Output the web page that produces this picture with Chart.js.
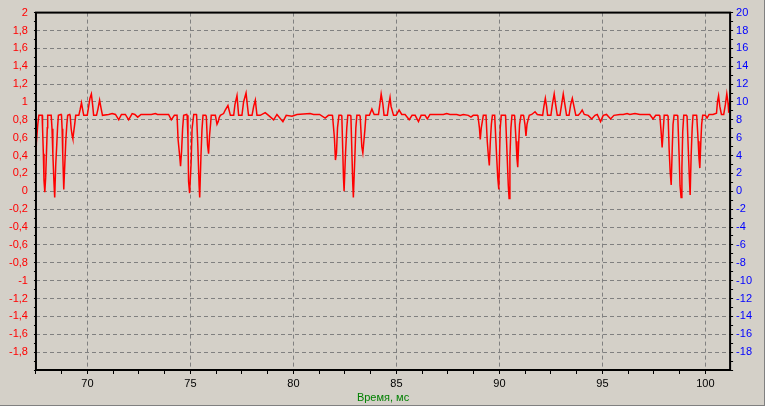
<!DOCTYPE html>
<html>
<head>
<meta charset="utf-8">
<script src="https://cdn.jsdelivr.net/npm/chart.js@4.4.0/dist/chart.umd.min.js"></script>
<style>
  html, body { margin: 0; padding: 0; background: #d4d0c8; }
  #wrap { width: 765px; height: 406px; box-sizing: border-box; border-right: 1px solid #808080; border-bottom: 1px solid #808080; }
  canvas { display: block; }
</style>
</head>
<body>
<div id="wrap"><canvas id="osc" width="764" height="405"></canvas></div>
<script>
// time axis, ms
var timeMs = [
  67.50, 67.52, 67.59, 67.64, 67.80, 67.82, 67.86, 67.89, 67.93, 67.97, 68.01, 68.05, 68.07, 68.21, 68.24, 68.28, 68.32, 68.37, 68.41, 68.46, 68.51, 68.55, 68.59, 68.72, 68.74, 68.77, 68.80, 68.85, 68.90, 68.95, 69.00, 69.04, 69.14, 69.16, 69.21, 69.26, 69.29, 69.33, 69.38, 69.43,
  69.58, 69.64, 69.71, 69.77, 69.82, 69.99, 70.06, 70.12, 70.19, 70.25, 70.30, 70.44, 70.51, 70.59, 70.66, 70.73,
  71.03, 71.20, 71.36, 71.52, 71.65, 71.84, 72.00, 72.17, 72.30, 72.44, 72.60, 72.81, 73.10, 73.30, 73.40, 73.54, 73.94, 74.07, 74.22,
  74.35, 74.40, 74.48, 74.52, 74.57, 74.62, 74.67, 74.82, 74.84, 74.88, 74.91, 74.96, 75.03, 75.08, 75.16, 75.29, 75.30, 75.36, 75.42, 75.45, 75.51, 75.56, 75.61, 75.74, 75.77, 75.83, 75.88, 75.93, 75.98, 76.01,
  76.21, 76.29, 76.35, 76.39, 76.45, 76.61, 76.69, 76.82, 76.94, 77.10, 77.16, 77.26, 77.34, 77.50, 77.58, 77.70, 77.77, 77.82, 77.99, 78.07, 78.15, 78.23, 78.39, 78.63, 78.79, 79.04, 79.20, 79.49, 79.65, 79.93, 80.17, 80.81, 80.98, 81.27, 81.54, 81.70, 81.88,
  81.90, 81.99, 82.04, 82.09, 82.14, 82.21, 82.32, 82.35, 82.43, 82.46, 82.53, 82.59, 82.64, 82.75, 82.79, 82.88, 82.91, 82.98, 83.03, 83.08, 83.21, 83.24, 83.32, 83.37, 83.42, 83.47, 83.52,
  83.69, 83.81, 83.92, 84.13, 84.20, 84.26, 84.34, 84.40, 84.56, 84.63, 84.69, 84.74, 84.86, 84.99, 85.13, 85.26, 85.42, 85.62, 85.76, 85.91, 86.07, 86.20, 86.39, 86.50, 86.63, 87.28, 87.44, 87.60, 87.93, 88.09, 88.25, 88.49, 88.62, 88.73, 88.93,
  88.96, 89.03, 89.07, 89.12, 89.17, 89.22, 89.35, 89.41, 89.46, 89.51, 89.56, 89.61, 89.66, 89.77, 89.87, 89.92, 89.97, 90.01, 90.04, 90.09, 90.29, 90.30, 90.38, 90.43, 90.47, 90.51, 90.56, 90.61, 90.72, 90.74, 90.81, 90.85, 90.89, 90.94, 90.98, 91.05, 91.16, 91.18, 91.24, 91.29, 91.34, 91.39, 91.45,
  91.57, 91.73, 91.84, 92.10, 92.16, 92.23, 92.29, 92.34, 92.50, 92.57, 92.66, 92.73, 92.81, 92.94, 93.02, 93.10, 93.18, 93.26, 93.38, 93.46, 93.54, 93.62, 93.71, 93.83, 93.94, 94.02, 94.12, 94.31, 94.48, 94.64, 94.75, 94.91, 95.04, 95.20, 95.40, 95.56, 95.85, 96.01, 96.20, 96.33, 96.58, 96.82, 97.06, 97.30, 97.46, 97.59, 97.76,
  97.79, 97.85, 97.90, 97.95, 98.00, 98.16, 98.19, 98.24, 98.29, 98.34, 98.39, 98.43, 98.48, 98.63, 98.66, 98.73, 98.77, 98.82, 98.86, 98.90, 98.95, 99.08, 99.11, 99.18, 99.23, 99.26, 99.31, 99.36, 99.40, 99.57, 99.58, 99.65, 99.69, 99.73, 99.78, 99.82, 99.87,
  100.00, 100.08, 100.18, 100.37, 100.54, 100.59, 100.64, 100.70, 100.78, 100.89, 100.97, 101.04, 101.10, 101.13, 101.20
];
// signal, left axis units
var signal = [
  0.34, 0.54, 0.75, 0.85, 0.85, 0.71, 0.42, 0.12, -0.01, 0.15, 0.43, 0.71, 0.85, 0.85, 0.85, 0.70, 0.42, 0.12, -0.07, 0.30, 0.52, 0.72, 0.85, 0.86, 0.85, 0.70, 0.42, 0.02, 0.30, 0.57, 0.75, 0.85, 0.86, 0.85, 0.70, 0.62, 0.59, 0.66, 0.75, 0.85,
  0.85, 0.91, 0.99, 0.91, 0.85, 0.85, 0.95, 1.04, 1.09, 0.97, 0.85, 0.85, 0.92, 1.02, 0.93, 0.85,
  0.86, 0.87, 0.86, 0.80, 0.86, 0.86, 0.80, 0.87, 0.86, 0.83, 0.86, 0.86, 0.86, 0.87, 0.86, 0.86, 0.86, 0.80, 0.85,
  0.85, 0.58, 0.39, 0.28, 0.45, 0.70, 0.85, 0.86, 0.85, 0.60, 0.11, -0.02, 0.30, 0.70, 0.86, 0.86, 0.85, 0.50, 0.07, -0.07, 0.39, 0.69, 0.85, 0.85, 0.84, 0.52, 0.42, 0.63, 0.76, 0.85,
  0.85, 0.75, 0.78, 0.82, 0.85, 0.87, 0.91, 0.96, 0.85, 0.85, 0.97, 1.07, 0.85, 0.85, 1.00, 1.10, 0.95, 0.85, 0.85, 0.95, 1.02, 0.85, 0.85, 0.88, 0.85, 0.80, 0.86, 0.78, 0.85, 0.84, 0.86, 0.87, 0.86, 0.86, 0.82, 0.85, 0.85,
  0.84, 0.60, 0.35, 0.43, 0.71, 0.85, 0.85, 0.84, 0.15, 0.00, 0.43, 0.71, 0.85, 0.85, 0.84, 0.09, -0.07, 0.37, 0.71, 0.85, 0.85, 0.84, 0.50, 0.43, 0.56, 0.69, 0.85,
  0.85, 0.92, 0.86, 0.86, 0.98, 1.09, 0.98, 0.85, 0.85, 0.97, 1.05, 0.95, 0.85, 0.85, 0.91, 0.86, 0.86, 0.80, 0.85, 0.85, 0.78, 0.85, 0.85, 0.81, 0.86, 0.86, 0.87, 0.86, 0.86, 0.85, 0.86, 0.85, 0.83, 0.85, 0.85,
  0.84, 0.71, 0.58, 0.71, 0.78, 0.85, 0.85, 0.56, 0.41, 0.29, 0.56, 0.75, 0.85, 0.85, 0.37, 0.15, 0.02, 0.43, 0.71, 0.85, 0.85, 0.84, 0.37, 0.07, -0.08, 0.38, 0.71, 0.85, 0.85, 0.84, 0.56, 0.37, 0.27, 0.56, 0.75, 0.85, 0.85, 0.84, 0.75, 0.62, 0.75, 0.80, 0.85,
  0.86, 0.89, 0.86, 0.85, 0.95, 1.04, 0.95, 0.85, 0.85, 0.97, 1.09, 0.97, 0.85, 0.85, 0.97, 1.09, 0.97, 0.85, 0.85, 0.97, 1.04, 0.95, 0.85, 0.85, 0.88, 0.91, 0.86, 0.85, 0.81, 0.85, 0.86, 0.78, 0.85, 0.86, 0.81, 0.85, 0.86, 0.86, 0.87, 0.86, 0.87, 0.86, 0.86, 0.86, 0.81, 0.85, 0.85,
  0.84, 0.67, 0.49, 0.67, 0.85, 0.85, 0.84, 0.47, 0.22, 0.07, 0.47, 0.75, 0.85, 0.85, 0.84, 0.37, 0.06, -0.07, 0.26, 0.67, 0.85, 0.85, 0.84, 0.41, 0.11, -0.04, 0.41, 0.71, 0.85, 0.85, 0.84, 0.56, 0.37, 0.26, 0.56, 0.75, 0.85,
  0.85, 0.82, 0.86, 0.86, 0.875, 1.01, 1.07, 0.95, 0.86, 0.86, 0.97, 1.09, 0.99, 0.89, 0.90
];

var xRange = [67.5, 101.2];
var xTickLabels = [70, 75, 80, 85, 90, 95, 100];
var leftRange = [-2, 2];
var rightRange = [-20, 20];

var points = [];
for (var i = 0; i < timeMs.length; i++) {
  points.push({x: timeMs[i], y: signal[i]});
}

var family = '"Liberation Sans", Arial, sans-serif';
var font = {family: family, size: 11};
var gridGray = '#808080';
var none = 'rgba(0,0,0,0)';

function commaNum(v) {
  return String(v).replace('.', ',');
}

// black frame around the plot area
var frame = {
  id: 'frame',
  afterDraw: function(chart) {
    var a = chart.chartArea, c = chart.ctx;
    c.save();
    c.strokeStyle = '#000';
    c.lineWidth = 2;
    c.strokeRect(a.left, a.top, a.right - a.left, a.bottom - a.top);
    c.restore();
  }
};

new Chart(document.getElementById('osc'), {
  type: 'line',
  data: {
    datasets: [{
      data: points,
      borderColor: '#ff0000',
      borderWidth: 1.5,
      pointRadius: 0,
      tension: 0,
      yAxisID: 'y'
    }]
  },
  options: {
    responsive: false,
    animation: false,
    layout: {padding: {left: 3, right: 9, top: 5, bottom: 2}},
    plugins: {legend: {display: false}, tooltip: {enabled: false}},
    scales: {
      x: {
        type: 'linear',
        min: xRange[0],
        max: xRange[1],
        border: {display: false, dash: [4, 3]},
        grid: {
          color: function(ctx) {
            return xTickLabels.indexOf(Math.round(ctx.tick.value * 100) / 100) >= 0 ? gridGray : none;
          },
          tickColor: '#000',
          tickLength: 4
        },
        ticks: {
          stepSize: 1.25,
          includeBounds: false,
          autoSkip: false,
          maxRotation: 0,
          color: '#000',
          font: {family: family, size: 11, lineHeight: '16px'},
          padding: 2,
          callback: function(v) {
            return xTickLabels.indexOf(Math.round(v * 100) / 100) >= 0 ? String(v) : '';
          }
        },
        title: {
          display: true,
          text: 'Время, мс',
          color: '#008000',
          font: {family: family, size: 11, lineHeight: '11px'},
          padding: {top: -2, bottom: 0}
        }
      },
      y: {
        position: 'left',
        min: leftRange[0],
        max: leftRange[1],
        border: {display: false, dash: [4, 3]},
        grid: {
          color: function(ctx) {
            var k = Math.round(ctx.tick.value * 10);
            return (k % 2 === 0 && Math.abs(k) !== 20) ? gridGray : none;
          },
          tickColor: '#000',
          tickLength: 2
        },
        ticks: {
          stepSize: 0.1,
          autoSkip: false,
          color: '#ff0000',
          font: font,
          padding: 6,
          callback: function(v) {
            var k = Math.round(v * 10);
            if (k % 2 !== 0 || k === -20) return '';
            return commaNum(k / 10);
          }
        }
      },
      y1: {
        position: 'right',
        min: rightRange[0],
        max: rightRange[1],
        border: {display: false},
        grid: {drawOnChartArea: false, tickColor: '#000', tickLength: 3},
        ticks: {
          stepSize: 1,
          autoSkip: false,
          color: '#0000ff',
          font: font,
          padding: 3,
          callback: function(v) {
            if (v % 2 !== 0 || v === -20) return '';
            return String(v);
          }
        }
      }
    }
  },
  plugins: [frame]
});
</script>
</body>
</html>
